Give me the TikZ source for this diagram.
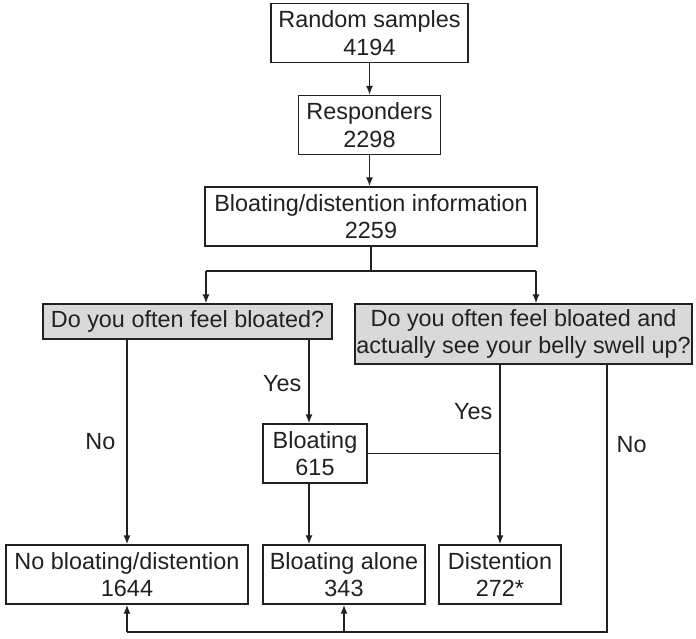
\documentclass[tikz,border=0pt]{standalone}
\usepackage{fontspec}
\setmainfont{Liberation Sans}
\usepackage{xcolor}
\usepackage{tikz}
\usetikzlibrary{positioning, calc, arrows.meta}
\definecolor{inkgray}{rgb}{0.14, 0.12, 0.13}
\definecolor{qgray}{rgb}{0.85, 0.85, 0.85}

\begin{document}
\begin{tikzpicture}[x=1pt, y=-1pt, line width=1.4pt, draw=inkgray, text=inkgray,
	every node/.style={font=\fontsize{23.4}{27.5}\selectfont, align=center, inner sep=0pt},
	box/.style={draw, fill=white, minimum height=59pt},
	qbox/.style={box, fill=qgray},
	arr/.style={-{Latex[length=9pt, width=7pt]}}]
		\useasboundingbox (0,0) rectangle (696,639);
		\pgfmathsetmacro{\rowq}{321.5}
		\pgfmathsetmacro{\rowbot}{574.5}

		\node[box, minimum width=197pt] (rand) at (369.5,33) {Random samples\\4194};
		\node[box, minimum width=142pt] (resp) at (369.5,125) {Responders\\2298};
		\node[box, minimum width=332pt] (info) at (371,216.5) {Bloating/distention information\\2259};

		\node[qbox, minimum width=289pt, minimum height=35pt] (qone) at (187.5,\rowq) {Do you often feel bloated?};
		\node[qbox, minimum width=337pt, minimum height=60pt] (qtwo) at (523.5,334) {Do you often feel bloated and\\actually see your belly swell up?};

		\node[box, minimum width=104pt] (bloat) at (315,453.5) {Bloating\\615};

		\node[box, minimum width=242pt] (none) at (127,\rowbot) {No bloating/distention\\1644};
		\node[box, minimum width=162pt] (alone) at (344,\rowbot) {Bloating alone\\343};
		\node[box, minimum width=122pt] (dist) at (500,\rowbot) {Distention\\272*};

		\coordinate (split) at (371,271);
		\coordinate (sleft) at (206,271);
		\coordinate (sright) at (536,271);
		\coordinate (yesone) at (309,0);
		\coordinate (notwo) at (607,0);
		\coordinate (bottom) at (0,632);

		% top chain
		\draw[arr] (rand) -- (resp);
		\draw[arr] (resp) -- (resp |- info.north);
		\draw (info.south) -- (split);
		\draw (sleft) -- (sright);
		\draw[arr] (sleft) -- (sleft |- qone.north);
		\draw[arr] (sright) -- (sright |- qtwo.north);

		% first question
		\draw[arr] (qone.south -| none) -- node[left=11pt, pos=0.5] (noone) {No} (none.north);
		\draw[arr] (qone.south -| yesone) -- node[left=7pt, pos=0.52] (yeslab) {Yes} (bloat.north -| yesone);
		\draw[arr] (bloat.south -| yesone) -- (alone.north -| yesone);
		\draw (bloat.east) -- (bloat.east -| dist);

		% second question
		\draw[arr] (qtwo.south -| dist) -- node[left=7pt, pos=0.26] (yestwo) {Yes} (dist.north);
		\draw (qtwo.south -| notwo) -- node[right=9pt, pos=0.3] (nolab) {No} (bottom -| notwo) -- (bottom -| none);
		\draw[arr] (bottom -| none) -- (none.south);
		\draw[arr] (bottom -| alone) -- (alone.south);
\end{tikzpicture}
\end{document}
